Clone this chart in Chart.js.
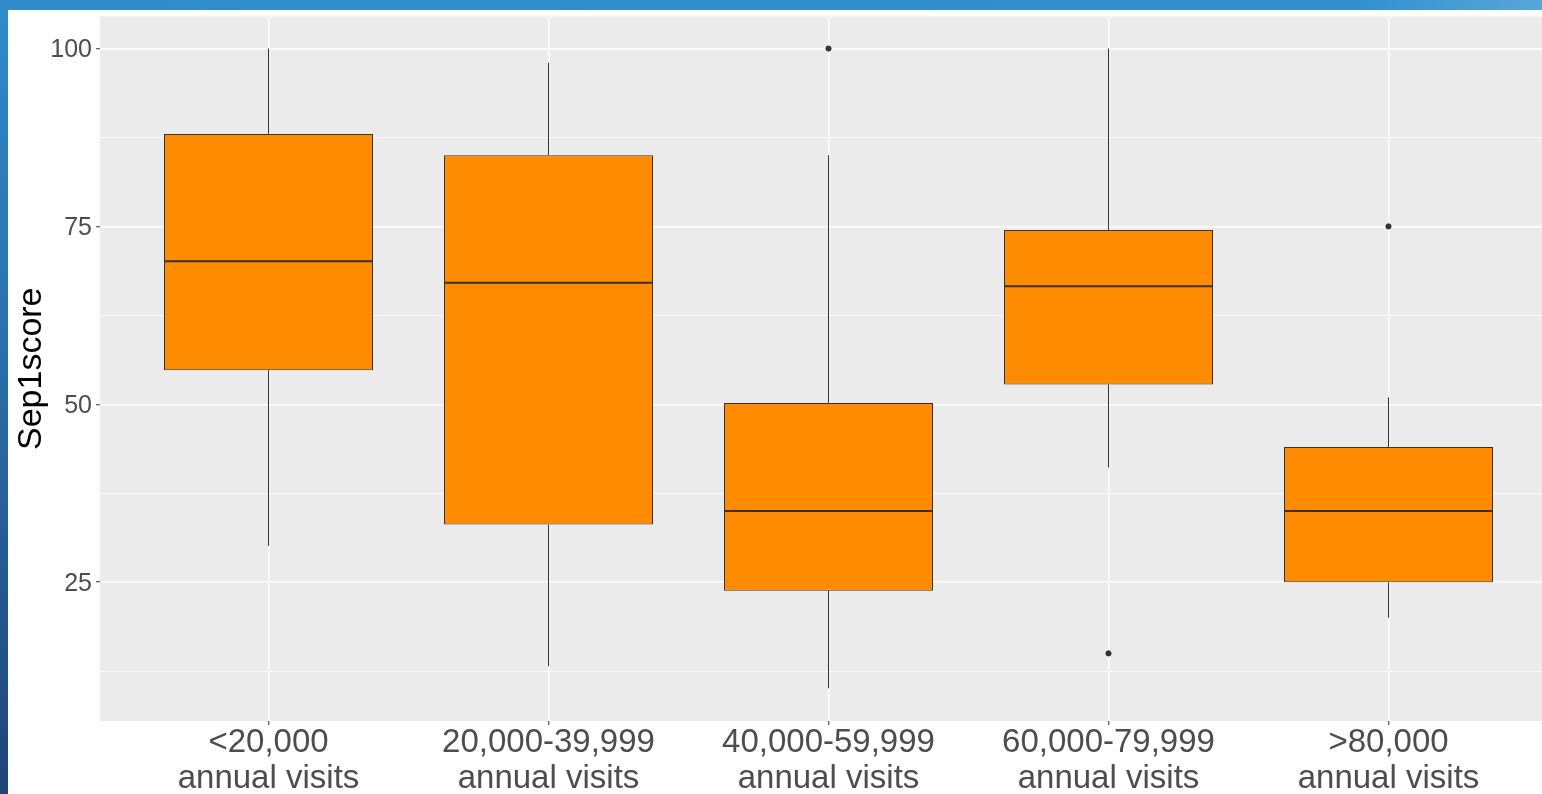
<!DOCTYPE html>
<html>
<head>
<meta charset="utf-8">
<title>Sep1score by annual visits</title>
<script src="https://cdn.jsdelivr.net/npm/chart.js@4.4.1/dist/chart.umd.min.js"></script>
<style>
    html, body { margin: 0; padding: 0; background: #ffffff; overflow: hidden; }
    body { width: 1542px; height: 794px; position: relative; }
    /* bandeau bleu du diaporama */
    #top-bar {
        position: absolute; left: 0; top: 0; width: 1542px; height: 10px;
        background: linear-gradient(90deg, #2f8bcb 0%, #3290cf 88%, #5aa6d8 100%);
    }
    #left-bar {
        position: absolute; left: 0; top: 0; width: 8px; height: 794px;
        background: linear-gradient(180deg, #2f8bcb 0%, #2a6fa8 45%, #1f4575 100%);
    }
    #chart-box {
        position: absolute; left: 8px; top: 10px; width: 1539px; height: 784px;
    }
</style>
</head>
<body>
<div id="top-bar"></div>
<div id="left-bar"></div>
<div id="chart-box"><canvas id="boxChart"></canvas></div>

<script>
// Données
const categories = [
    ['<20,000', 'annual visits'],
    ['20,000-39,999', 'annual visits'],
    ['40,000-59,999', 'annual visits'],
    ['60,000-79,999', 'annual visits'],
    ['>80,000', 'annual visits']
];
const whiskerLow = [30.1, 13.2, 10.1, 41.1, 20.0];
const q1 = [54.8, 33.1, 23.8, 52.8, 25.0];
const median = [70.1, 67.1, 35.0, 66.6, 35.0];
const q3 = [88.0, 85.0, 50.2, 74.5, 44.0];
const whiskerHigh = [100, 98.0, 85.0, 100, 51.0];
const outlierGroup = [2, 3, 4];
const outlierValue = [100, 15.0, 75.0];
const yTicks = [12.5, 25, 37.5, 50, 62.5, 75, 87.5, 100];

const BOX_WIDTH = 0.7464;

/**
 * Segments des moustaches (coupés par des points nuls)
 */
function buildWhiskers() {
    const pts = [];
    categories.forEach((c, i) => {
        pts.push({ x: i, y: whiskerLow[i] }, { x: i, y: q1[i] }, { x: i, y: null });
        pts.push({ x: i, y: q3[i] }, { x: i, y: whiskerHigh[i] }, { x: i, y: null });
    });
    return pts;
}

function buildMedians() {
    const pts = [];
    categories.forEach((c, i) => {
        pts.push({ x: i - BOX_WIDTH / 2, y: median[i] }, { x: i + BOX_WIDTH / 2, y: median[i] }, { x: i, y: null });
    });
    return pts;
}

// fond gris du panneau (style ggplot)
const panelBackground = {
    id: 'panelBackground',
    beforeDraw(chart) {
        const a = chart.chartArea;
        const ctx = chart.ctx;
        ctx.save();
        ctx.fillStyle = '#ebebeb';
        ctx.fillRect(a.left, a.top, a.right - a.left, a.bottom - a.top);
        ctx.restore();
    }
};

const isMajor = (v) => Math.abs(v % 25) < 1e-6;

new Chart(document.getElementById('boxChart'), {
    data: {
        datasets: [
            {
                type: 'bar',
                data: categories.map((c, i) => ({ x: i, y: [q1[i], q3[i]] })),
                backgroundColor: '#ff8c00',
                borderColor: '#333333',
                borderWidth: 1,
                borderSkipped: false,
                barPercentage: BOX_WIDTH,
                categoryPercentage: 1,
                order: 3
            },
            {
                type: 'line',
                data: buildWhiskers(),
                borderColor: '#333333',
                borderWidth: 1,
                pointRadius: 0,
                spanGaps: false,
                order: 2
            },
            {
                type: 'line',
                data: buildMedians(),
                borderColor: '#333333',
                borderWidth: 2,
                pointRadius: 0,
                spanGaps: false,
                order: 1
            },
            {
                type: 'scatter',
                data: outlierGroup.map((g, k) => ({ x: g, y: outlierValue[k] })),
                backgroundColor: '#333333',
                borderColor: '#333333',
                pointRadius: 2.6,
                order: 0
            }
        ]
    },
    options: {
        responsive: true,
        maintainAspectRatio: false,
        animation: false,
        layout: { padding: { top: 6, right: 0, bottom: 0, left: 0 } },
        plugins: {
            legend: { display: false },
            tooltip: { enabled: false }
        },
        scales: {
            x: {
                type: 'linear',
                min: -0.6018,
                max: 4.5482,
                offset: false,
                afterBuildTicks: (scale) => {
                    scale.ticks = categories.map((c, i) => ({ value: i }));
                },
                afterFit: (scale) => { scale.height = 73; },
                ticks: {
                    callback: (v) => categories[v] || '',
                    color: '#4d4d4d',
                    font: { family: '"Liberation Sans", Arial, sans-serif', size: 33, lineHeight: 1.08 },
                    padding: 0,
                    maxRotation: 0,
                    autoSkip: false
                },
                grid: {
                    offset: false,
                    color: '#ffffff',
                    lineWidth: 1.5,
                    tickLength: 4,
                    tickColor: '#333333',
                    tickWidth: 1
                },
                border: { display: false }
            },
            y: {
                type: 'linear',
                min: 5.5,
                max: 104.5,
                afterBuildTicks: (scale) => {
                    scale.ticks = yTicks.map(v => ({ value: v }));
                },
                afterFit: (scale) => { scale.width = 92; },
                title: {
                    display: true,
                    text: 'Sep1score',
                    color: '#000000',
                    font: { family: '"Liberation Sans", Arial, sans-serif', size: 34, lineHeight: 1.2 },
                    padding: { top: 3, bottom: 0 }
                },
                ticks: {
                    callback: (v) => isMajor(v) ? String(v) : '',
                    color: '#4d4d4d',
                    font: { family: '"Liberation Sans", Arial, sans-serif', size: 25, lineHeight: 0.2 },
                    padding: 4,
                    labelOffset: 2,
                    autoSkip: false
                },
                grid: {
                    color: '#ffffff',
                    lineWidth: (ctx) => isMajor(ctx.tick.value) ? 1.5 : 0.8,
                    tickLength: 4,
                    tickColor: (ctx) => isMajor(ctx.tick.value) ? '#333333' : 'rgba(0,0,0,0)',
                    tickWidth: 1
                },
                border: { display: false }
            }
        }
    },
    plugins: [panelBackground]
});
</script>
</body>
</html>
